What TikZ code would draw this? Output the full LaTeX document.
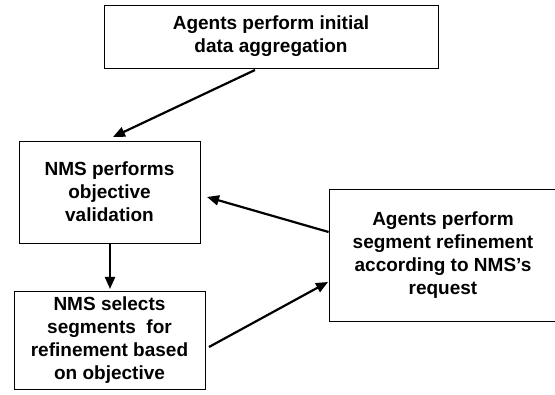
\documentclass[tikz,border=0pt]{standalone}
\usepackage{fontspec}
\setmainfont{Liberation Sans}
\usetikzlibrary{arrows.meta}
\begin{document}
\begin{tikzpicture}[x=1pt,y=-1pt,
  box/.style={draw, line width=0.8pt, align=center, font=\bfseries\fontsize{19}{22.8}\selectfont, inner sep=0pt},
  arr/.style={line width=2.2pt, -{Triangle[length=12pt,width=10pt]}}]
\useasboundingbox (0,0) rectangle (555,395);
\node[box, minimum width=334pt, minimum height=63pt] (a) at (271,36.5) {Agents perform initial\\data aggregation};
\node[box, minimum width=181pt, minimum height=102pt] (b) at (109.5,192) {NMS performs\\objective\\validation};
\node[box, minimum width=191pt, minimum height=98pt] (c) at (109.5,340) {NMS selects\\segments\ \ for\\refinement based\\on objective};
\node[box, minimum width=228pt, minimum height=132pt] (d) at (443,255) {Agents perform\\segment refinement\\according to NMS's\\request};
\coordinate (a1) at (255,70);
\coordinate (a1e) at (113,137);
\draw[arr] (a1) -- (a1e);
\draw[arr] (d.west |- 0,232) -- (207,197);
\draw[arr] (b.south -| 110,0) -- (110,289);
\draw[arr] (209,347) -- (328,282);
\end{tikzpicture}
\end{document}
